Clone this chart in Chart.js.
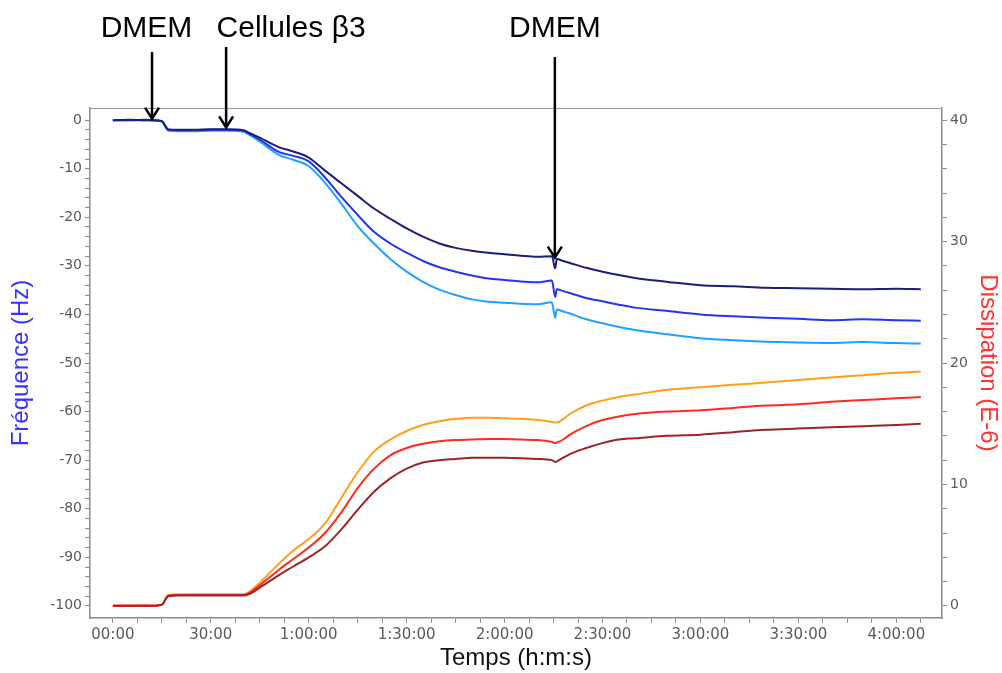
<!DOCTYPE html>
<html lang="fr">
<head>
<meta charset="utf-8">
<title>QCM-D cellules β3</title>
<script src="https://cdn.jsdelivr.net/npm/chart.js@4.4.1/dist/chart.umd.min.js"></script>
<style>
  html, body { margin: 0; padding: 0; background: #fff; }
  #wrap { position: relative; width: 1002px; height: 673px; }
</style>
</head>
<body>
<div id="wrap"><canvas id="qcm"></canvas></div>
<script>
// temps en minutes depuis le début de la mesure
const temps = [0, 5, 10, 12, 15, 17, 20, 25, 30, 35, 40, 42, 45, 51, 55, 60, 65, 70, 75, 80,
  85, 90, 95, 100, 105, 110, 115, 120, 125, 130, 134.5, 135.5, 136, 138, 140, 145, 150, 155, 160, 170,
  180, 190, 200, 210, 220, 230, 240, 247.5];

// fréquence (Hz), trois harmoniques
const freqA = [0, 0.1, 0, 0, -0.2, -1.9, -2.0, -2.0, -1.9, -1.9, -2.1, -2.7, -3.6, -5.6, -6.4, -7.7, -10.4, -13.0, -15.6, -18.2,
  -20.3, -22.3, -24.0, -25.4, -26.3, -26.9, -27.3, -27.6, -27.9, -28.1, -28.0, -30.5, -28.6, -29.0, -29.4, -30.4, -31.2, -31.9, -32.5, -33.3,
  -34.0, -34.2, -34.5, -34.6, -34.7, -34.8, -34.7, -34.8];
const freqB = [0, 0, 0.1, 0, -0.2, -2.0, -2.1, -2.1, -2.0, -2.0, -2.2, -2.9, -4.0, -6.6, -7.3, -8.5, -11.8, -15.8, -19.5, -23.0,
  -25.4, -27.3, -29.0, -30.3, -31.2, -32.0, -32.6, -32.9, -33.2, -33.4, -33.0, -36.4, -34.8, -35.2, -35.6, -36.6, -37.3, -38.0, -38.6, -39.3,
  -40.0, -40.4, -40.7, -40.9, -41.2, -41.0, -41.2, -41.3];
const freqC = [0, 0, 0, 0, -0.3, -2.2, -2.3, -2.3, -2.2, -2.2, -2.4, -3.1, -4.4, -7.2, -8.1, -9.5, -12.9, -17.2, -21.8, -25.4,
  -28.6, -31.2, -33.3, -34.9, -36.0, -36.9, -37.4, -37.6, -37.8, -37.9, -37.5, -40.7, -39.0, -39.4, -39.8, -41.0, -41.8, -42.6, -43.2, -44.1,
  -44.9, -45.3, -45.6, -45.8, -45.9, -45.7, -45.9, -46.0];

// dissipation (E-6)
const dissA = [0, 0, 0, 0, 0.1, 0.8, 0.85, 0.85, 0.85, 0.85, 0.85, 1.0, 1.5, 2.55, 3.2, 4.0, 4.9, 6.3, 7.9, 9.4,
  10.5, 11.3, 11.8, 12.0, 12.1, 12.2, 12.2, 12.2, 12.15, 12.1, 12.0, 11.85, 11.9, 12.2, 12.5, 13.0, 13.4, 13.7, 13.8, 14.0,
  14.1, 14.3, 14.5, 14.6, 14.7, 14.8, 14.9, 15.0];
const dissB = [0, 0, 0, 0, 0.1, 0.85, 0.9, 0.9, 0.9, 0.9, 0.9, 1.1, 1.7, 3.0, 3.8, 4.8, 6.0, 7.7, 9.7, 11.3,
  12.4, 13.0, 13.35, 13.55, 13.65, 13.7, 13.75, 13.75, 13.7, 13.65, 13.5, 13.4, 13.45, 13.7, 14.1, 14.8, 15.3, 15.6, 15.8, 16.0,
  16.1, 16.3, 16.5, 16.6, 16.8, 16.95, 17.1, 17.2];
const dissC = [0, 0, 0.05, 0, 0.1, 0.9, 0.95, 0.95, 0.95, 0.95, 0.95, 1.2, 1.9, 3.5, 4.5, 5.5, 6.8, 8.9, 11.0, 12.7,
  13.7, 14.4, 14.9, 15.2, 15.4, 15.5, 15.5, 15.45, 15.4, 15.3, 15.15, 15.1, 15.1, 15.4, 15.8, 16.5, 16.9, 17.2, 17.4, 17.8,
  18.0, 18.2, 18.4, 18.6, 18.8, 19.0, 19.2, 19.3];

// injections : texte, position du texte, temps de la flèche, pointe (Hz), haut de la flèche (px)
const fleches = [
  { texte: 'DMEM', tTexte: 10.3, t: 12, pointe: 0.3, haut: 52 },
  { texte: 'Cellules β3', tTexte: 54.6, t: 34.7, pointe: -1.5, haut: 47 },
  { texte: 'DMEM', tTexte: 135.4, t: 135.4, pointe: -28.3, haut: 57 }
];

function pts(vals) {
  return vals.map((v, i) => ({ x: temps[i], y: v }));
}

function formatTemps(m) {
  const h = Math.floor(m / 60);
  const mm = String(Math.round(m % 60)).padStart(2, '0');
  return h === 0 ? mm + ':00' : h + ':' + mm + ':00';
}

function serie(label, vals, color, axis) {
  return {
    label, data: pts(vals), borderColor: color, borderWidth: 2, pointRadius: 0,
    cubicInterpolationMode: 'monotone', yAxisID: axis
  };
}

const tickFont = { family: '"DejaVu Sans", Verdana, sans-serif', size: 14 };
const titleFont = { family: '"Liberation Sans", Arial, sans-serif', size: 24 };

const annotations = {
  id: 'annotations',
  afterDraw(chart) {
    const { ctx, chartArea: a, scales } = chart;
    ctx.save();
    ctx.strokeStyle = '#9a9a9a';
    ctx.lineWidth = 1;
    ctx.beginPath();
    ctx.moveTo(a.left, a.top + 0.5);
    ctx.lineTo(a.right, a.top + 0.5);
    ctx.stroke();

    ctx.strokeStyle = '#000';
    ctx.fillStyle = '#000';
    ctx.lineWidth = 2.5;
    ctx.font = '30px "Liberation Sans", Arial, sans-serif';
    ctx.textAlign = 'center';
    fleches.forEach(f => {
      const x = scales.x.getPixelForValue(f.t);
      const yTip = scales.y.getPixelForValue(f.pointe);
      ctx.beginPath();
      ctx.moveTo(x, f.haut);
      ctx.lineTo(x, yTip);
      ctx.stroke();
      ctx.beginPath();
      ctx.moveTo(x - 7, yTip - 11);
      ctx.lineTo(x, yTip);
      ctx.lineTo(x + 7, yTip - 11);
      ctx.stroke();
      ctx.fillText(f.texte, scales.x.getPixelForValue(f.tTexte), 37);
    });
    ctx.restore();
  }
};

new Chart(document.getElementById('qcm'), {
  type: 'line',
  data: {
    datasets: [
      serie('f A', freqA, '#1c1f78', 'y'),
      serie('f B', freqB, '#2436ea', 'y'),
      serie('f C', freqC, '#22a0ff', 'y'),
      serie('D A', dissA, '#9b2626', 'y2'),
      serie('D B', dissB, '#ff2a1c', 'y2'),
      serie('D C', dissC, '#ff9f1c', 'y2')
    ]
  },
  options: {
    responsive: true,
    maintainAspectRatio: false,
    animation: false,
    layout: { padding: { top: 108, left: 0, right: 0, bottom: 0 } },
    plugins: { legend: { display: false }, tooltip: { enabled: false } },
    scales: {
      x: {
        type: 'linear',
        min: -7,
        max: 254,
        afterBuildTicks: (scale) => {
          const ticks = [];
          for (let v = 0; v <= scale.max; v += 7.5) ticks.push({ value: v });
          scale.ticks = ticks;
        },
        afterFit: (scale) => { scale.height = 55; },
        ticks: {
          autoSkip: false,
          maxRotation: 0,
          padding: 3,
          color: '#5a5a5a',
          font: { family: tickFont.family, size: 15 },
          callback: (v) => (v % 30 === 0 ? formatTemps(v) : '')
        },
        grid: { drawOnChartArea: false, tickLength: 5, color: '#8a8a8a' },
        border: { color: '#8a8a8a', width: 1.5 },
        title: { display: true, text: 'Temps (h:m:s)', color: '#111', font: titleFont, padding: { top: 0, bottom: 0 } }
      },
      y: {
        position: 'left',
        min: -102.5,
        max: 2.5,
        afterBuildTicks: (scale) => {
          const ticks = [];
          for (let v = -100; v <= 0; v += 2) ticks.push({ value: v });
          scale.ticks = ticks;
        },
        afterFit: (scale) => { scale.width = 90; },
        ticks: {
          autoSkip: false,
          padding: 3,
          color: '#5a5a5a',
          font: tickFont,
          callback: (v) => (v % 10 === 0 ? String(v) : '')
        },
        grid: { drawOnChartArea: false, tickLength: 5, color: '#8a8a8a' },
        border: { color: '#8a8a8a', width: 1.5 },
        title: { display: true, text: 'Fréquence (Hz)', color: '#3434ff', font: titleFont, padding: { top: 7, bottom: 0 } }
      },
      y2: {
        position: 'right',
        min: -1,
        max: 41,
        afterBuildTicks: (scale) => {
          const ticks = [];
          for (let v = 0; v <= 40; v += 2) ticks.push({ value: v });
          scale.ticks = ticks;
        },
        afterFit: (scale) => { scale.width = 60; },
        ticks: {
          autoSkip: false,
          padding: 3,
          color: '#5a5a5a',
          font: tickFont,
          callback: (v) => (v % 10 === 0 ? String(v) : '')
        },
        grid: { drawOnChartArea: false, tickLength: 5, color: '#8a8a8a' },
        border: { color: '#8a8a8a', width: 1.5 },
        title: { display: true, text: 'Dissipation (E-6)', color: '#ff3333', font: titleFont, padding: { top: 0, bottom: 0 } }
      }
    }
  },
  plugins: [annotations]
});
</script>
</body>
</html>
